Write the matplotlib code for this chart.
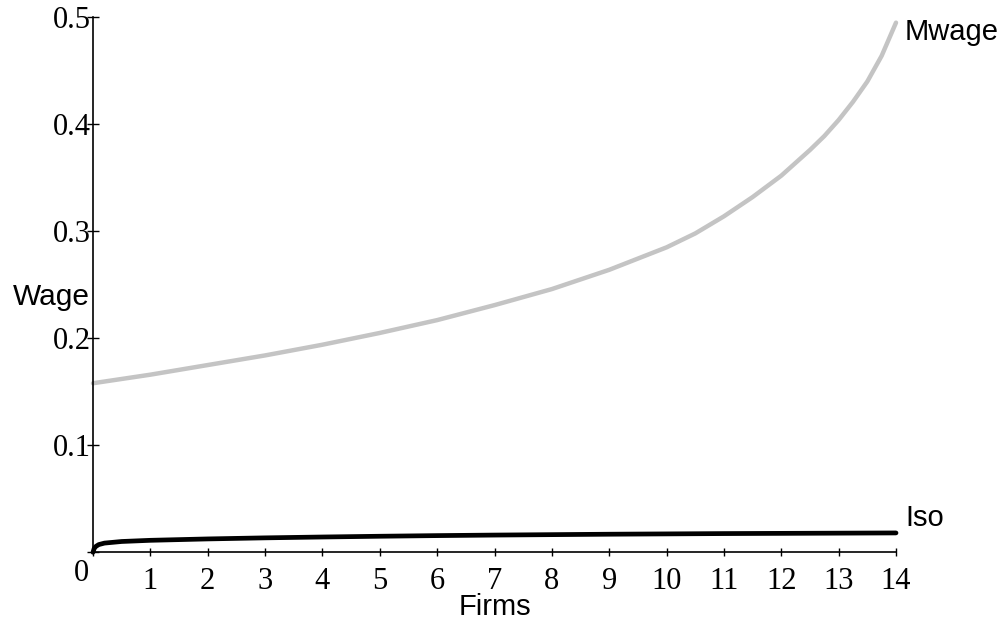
import numpy as np
import matplotlib
matplotlib.use('Agg')
import matplotlib.pyplot as plt

# ----- data
firms_m = [0, 1, 2, 3, 4, 5, 6, 7, 8, 9, 10, 10.5, 11, 11.5, 12, 12.5, 12.75,
           13, 13.25, 13.5, 13.75, 14]
mwage = [0.158, 0.166, 0.175, 0.184, 0.194, 0.205, 0.217, 0.231, 0.246, 0.264,
         0.285, 0.298, 0.314, 0.332, 0.352, 0.376, 0.389, 0.404, 0.421, 0.440,
         0.464, 0.495]

firms_i = [0, 0.02, 0.05, 0.1, 0.2, 0.5, 1, 2, 3, 4, 5, 6, 7, 8, 9, 10, 11, 12, 13, 14]
iso = [0, 0.0035, 0.0055, 0.0072, 0.0086, 0.0101, 0.0112, 0.0125, 0.0135, 0.0143,
       0.015, 0.0156, 0.0161, 0.0165, 0.0169, 0.0172, 0.0175, 0.0177, 0.0179, 0.0181]

xticks = list(range(0, 15))
xticklabels = [''] + [str(i) for i in range(1, 15)]
yticks = [0, 0.1, 0.2, 0.3, 0.4, 0.5]
yticklabels = ['', '0.1', '0.2', '0.3', '0.4', '0.5']

serif = 'Liberation Serif'
sans = 'Liberation Sans'

fig = plt.figure(figsize=(10.05, 6.27), dpi=100)
ax = fig.add_axes([93/1005, 74.7/627, 803/1005, 535/627])

ax.plot(firms_m, mwage, color='#c4c4c4', lw=3.2, solid_capstyle='round',
        solid_joinstyle='round', clip_on=False)
ax.plot(firms_i, iso, color='black', lw=3.4, solid_capstyle='round',
        solid_joinstyle='round', clip_on=False)

ax.set_xlim(0, 14)
ax.set_ylim(0, 0.5)
for s in ['top', 'right']:
    ax.spines[s].set_visible(False)
for s in ['left', 'bottom']:
    ax.spines[s].set_linewidth(1.2)

ax.set_xticks(xticks)
ax.set_xticklabels(xticklabels, fontfamily=serif, fontsize=22)
ax.set_yticks(yticks)
ax.set_yticklabels(yticklabels, fontfamily=serif, fontsize=22)
ax.tick_params(axis='x', direction='inout', length=6, width=1, pad=7.5)
ax.tick_params(axis='y', direction='inout', length=8, width=1, pad=-2.8)
for lab in ax.get_yticklabels():
    lab.set_verticalalignment('center_baseline')

# origin label and text labels
ax.text(-0.21, -0.0266, '0', fontfamily=serif, fontsize=22, ha='center', va='baseline', clip_on=False)
ax.text(-1.395, 0.2311, 'Wage', fontfamily=sans, fontsize=21.5, ha='left', va='baseline', clip_on=False)
ax.text(7.0, -0.0586, 'Firms', fontfamily=sans, fontsize=21, ha='center', va='baseline', clip_on=False)
ax.text(14.156, 0.4788, 'Mwage', fontfamily=sans, fontsize=21, ha='left', va='baseline', clip_on=False)
ax.text(14.156, 0.0249, 'Iso', fontfamily=sans, fontsize=21, ha='left', va='baseline', clip_on=False)

plt.savefig('out.png', dpi=100)
